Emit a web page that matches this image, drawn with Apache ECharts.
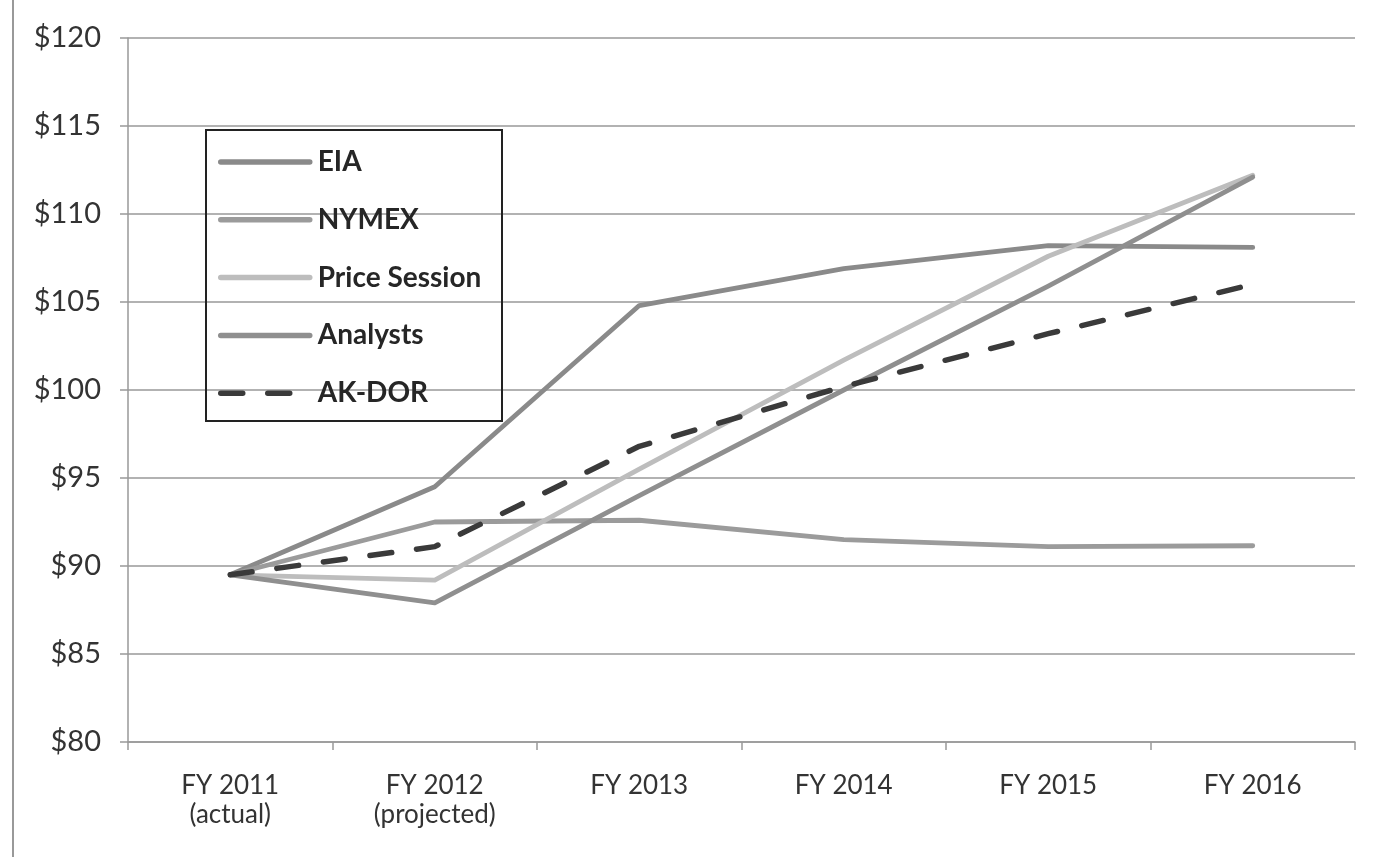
<!DOCTYPE html>
<html>
<head>
<meta charset="utf-8">
<script src="https://cdn.jsdelivr.net/npm/echarts@6/dist/echarts.min.js"></script>
<style>
  html, body { margin: 0; padding: 0; background: #fff; }
  #chart { width: 1377px; height: 857px; }
</style>
</head>
<body>
<div id="chart"></div>
<script>
// Fiscal years on the horizontal axis
var categories = ['FY 2011\n(actual)', 'FY 2012\n(projected)', 'FY 2013', 'FY 2014', 'FY 2015', 'FY 2016'];

// Oil price forecasts, dollars per barrel
var eia          = [89.5, 94.5, 104.8, 106.9, 108.2, 108.1];
var nymex        = [89.5, 92.5, 92.6, 91.5, 91.1, 91.15];
var priceSession = [89.5, 89.2, 95.5, 101.7, 107.6, 112.2];
var analysts     = [89.5, 87.9, 94.0, 100.0, 105.9, 112.1];
var akDor        = [89.5, 91.1, 96.8, 100.2, 103.2, 106.0];

// Vertical axis range and step
var yMin = 80, yMax = 120, yStep = 5;

var FONT = 'Lato, "Open Sans", sans-serif';

function lineSeries(name, data, color, dashed) {
  return {
    name: name,
    type: 'line',
    data: data,
    symbol: 'none',
    smooth: false,
    z: dashed ? 5 : 3,
    lineStyle: {
      color: color,
      width: dashed ? 5.5 : 4.8,
      type: dashed ? [22, 25] : 'solid',
      cap: 'round',
      join: 'round'
    },
    itemStyle: { color: color }
  };
}

var chart = echarts.init(document.getElementById('chart'), null, { renderer: 'canvas' });

chart.setOption({
  animation: false,
  backgroundColor: '#fff',
  grid: { left: 128, right: 22, top: 38, bottom: 115 },
  legend: {
    orient: 'vertical',
    left: 213,
    top: 143,
    itemWidth: 89,
    itemHeight: 24,
    itemGap: 29.8,
    itemStyle: { opacity: 0 },
    lineStyle: { width: 5.5, cap: 'round' },
    textStyle: { fontFamily: FONT, fontWeight: 'bold', fontSize: 28, color: '#262626', padding: [0, 0, 0, 3] },
    data: ['EIA', 'NYMEX', 'Price Session', 'Analysts', 'AK-DOR']
  },
  graphic: [
    {
      type: 'rect',
      shape: { x: 206, y: 130, width: 296, height: 291 },
      style: { fill: 'rgba(0,0,0,0)', stroke: '#222', lineWidth: 2 },
      z: 10
    },
    {
      type: 'line',
      shape: { x1: 13, y1: 0, x2: 13, y2: 857 },
      style: { stroke: '#999', lineWidth: 2 },
      z: 10
    }
  ],
  xAxis: {
    type: 'category',
    data: categories,
    boundaryGap: true,
    axisLine: { show: true, lineStyle: { color: '#999', width: 1.5 } },
    axisTick: { show: true, length: 8, inside: false, lineStyle: { color: '#999', width: 1.5 } },
    axisLabel: { fontFamily: FONT, fontSize: 26, color: '#333', margin: 29, lineHeight: 29 },
    splitLine: { show: false }
  },
  yAxis: {
    type: 'value',
    min: yMin,
    max: yMax,
    interval: yStep,
    axisLine: { show: true, lineStyle: { color: '#999', width: 1.5 } },
    axisTick: { show: true, length: 8, lineStyle: { color: '#999', width: 1.5 } },
    axisLabel: {
      fontFamily: FONT, fontSize: 29, color: '#333', margin: 27,
      formatter: function (v) { return '$' + v; }
    },
    splitLine: { show: true, lineStyle: { color: '#999', width: 1.5 } }
  },
  series: [
    lineSeries('EIA', eia, '#8a8a8a', false),
    lineSeries('NYMEX', nymex, '#9b9b9b', false),
    lineSeries('Price Session', priceSession, '#bdbdbd', false),
    lineSeries('Analysts', analysts, '#8f8f8f', false),
    lineSeries('AK-DOR', akDor, '#3a3a3a', true)
  ]
});
</script>
</body>
</html>
